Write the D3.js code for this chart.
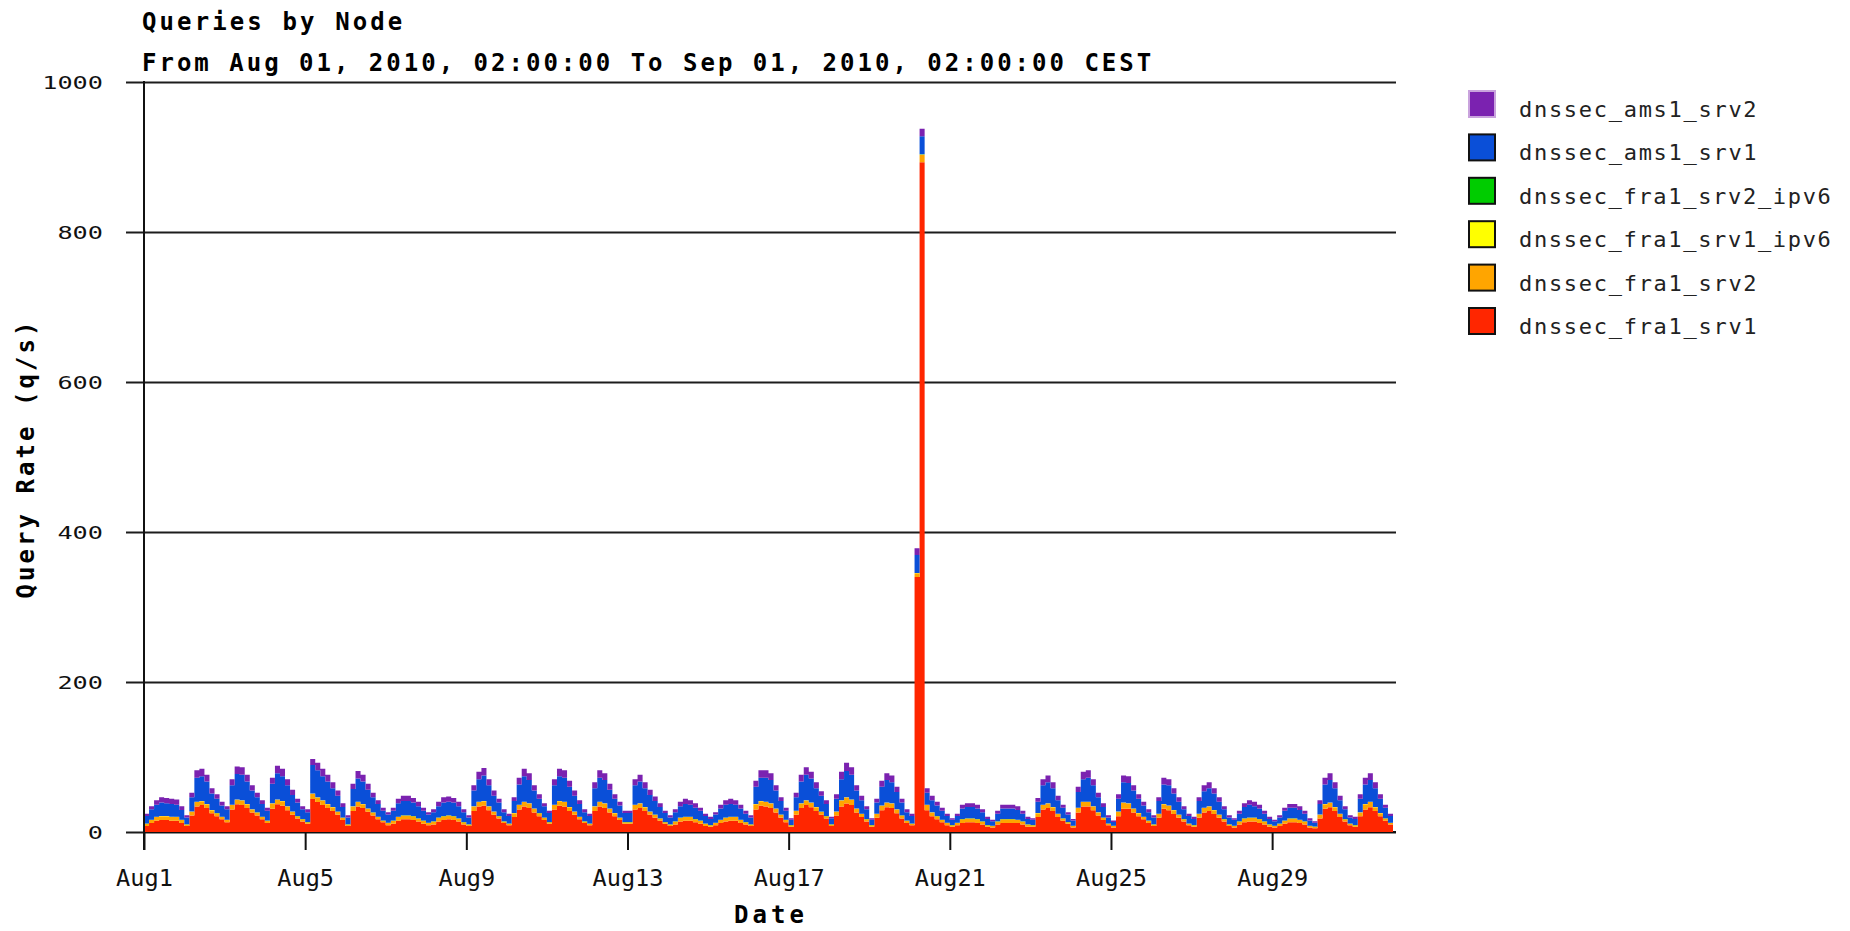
<!DOCTYPE html>
<html>
<head>
<meta charset="utf-8">
<script src="https://cdn.jsdelivr.net/npm/d3@7"></script>
<style>
  body { margin: 0; background: #fff; }
  svg { display: block; }
</style>
</head>
<body>
<div id="chart"></div>
<script>
const title = 'Queries by Node'
const subtitle = 'From Aug 01, 2010, 02:00:00 To Sep 01, 2010, 02:00:00 CEST'
const xLabel = 'Date'
const yLabel = 'Query Rate (q/s)'

// stacking order, bottom to top
const seriesNames = ['dnssec_fra1_srv1', 'dnssec_fra1_srv2', 'dnssec_fra1_srv1_ipv6',
                     'dnssec_fra1_srv2_ipv6', 'dnssec_ams1_srv1', 'dnssec_ams1_srv2']
const seriesColors = ['#ff2600', '#ffa500', '#ffff00', '#00cc00', '#0a4fd8', '#7b22b0']

const yTicks = [0, 200, 400, 600, 800, 1000]
const xTickDays = [1, 5, 9, 13, 17, 21, 25, 29]

// 3-hour bins from Aug 01 00:00 UTC, one line per day
const fra1Srv1 = [
  8,12,15,16,16,15,15,12,
  8,22,34,36,32,25,21,17,
  13,30,37,36,32,26,22,17,
  12,31,37,35,29,23,18,14,
  11,44,40,36,32,28,23,16,
  8,28,34,32,27,22,17,13,
  9,11,15,17,17,16,14,11,
  9,10,14,16,17,16,14,10,
  8,28,34,35,29,23,18,12,
  9,20,30,34,32,26,21,16,
  11,30,35,34,28,23,17,12,
  9,28,34,32,26,21,16,11,
  11,30,32,28,23,19,15,11,
  8,10,14,15,15,13,11,8,
  7,9,12,14,15,15,12,10,
  8,30,35,34,32,26,19,13,
  7,23,32,36,33,28,23,18,
  8,22,34,38,36,26,20,14,
  7,19,29,33,32,25,18,12,
  9,340,893,29,21,17,13,9,
  7,9,12,13,13,12,10,7,
  6,10,12,12,12,12,10,7,
  7,20,30,32,28,20,15,11,
  6,26,34,34,29,22,16,9,
  6,21,31,31,26,21,17,12,
  8,19,31,29,24,19,14,9,
  7,19,26,28,24,19,14,8,
  6,10,13,14,14,12,10,7,
  6,8,11,13,13,12,10,6,
  5,18,31,33,28,20,14,9,
  7,21,30,33,28,21,15,10
]
const fra1Srv2 = [
  3,4,5,5,5,5,5,4,
  2,5,6,5,5,4,4,3,
  3,6,6,6,5,4,4,3,
  3,7,6,6,5,4,3,3,
  2,7,6,6,5,5,4,3,
  2,6,6,5,4,4,3,2,
  3,4,5,5,5,5,4,4,
  3,4,5,5,5,5,4,3,
  2,6,6,6,5,4,3,2,
  2,5,6,6,6,5,4,3,
  2,6,6,6,5,4,3,2,
  2,6,6,6,5,4,3,2,
  2,6,6,5,4,4,3,2,
  2,4,5,5,5,4,4,3,
  2,3,4,5,5,5,4,3,
  2,7,6,6,6,5,4,3,
  2,5,6,6,6,5,4,3,
  2,5,8,8,7,5,4,3,
  2,5,6,6,6,5,4,3,
  2,5,10,7,5,4,3,3,
  2,3,5,5,5,5,4,2,
  2,4,5,5,5,4,4,3,
  2,5,6,6,5,4,3,2,
  2,6,6,6,5,4,3,2,
  2,6,8,7,5,4,3,3,
  2,5,6,6,5,4,3,2,
  2,5,6,6,5,4,3,2,
  2,4,5,5,5,5,4,3,
  2,3,4,5,5,4,4,2,
  2,5,6,6,5,4,3,2,
  2,5,7,7,5,4,3,2
]
const fra1Srv1Ipv6 = [
  0.1,0.1,0.1,0.2,0.2,0.2,0.1,0.1,
  0.1,0.2,0.2,0.2,0.2,0.2,0.1,0.1,
  0.1,0.2,0.2,0.2,0.2,0.2,0.1,0.1,
  0.1,0.2,0.2,0.2,0.2,0.2,0.1,0.1,
  0.1,0.2,0.2,0.2,0.2,0.2,0.1,0.1,
  0.1,0.2,0.2,0.2,0.2,0.1,0.1,0.1,
  0.1,0.1,0.1,0.1,0.1,0.1,0.1,0.1,
  0.1,0.1,0.1,0.1,0.1,0.1,0.1,0.1,
  0.1,0.2,0.2,0.2,0.2,0.2,0.1,0.1,
  0.1,0.2,0.2,0.2,0.2,0.2,0.1,0.1,
  0.1,0.2,0.2,0.2,0.2,0.2,0.1,0.1,
  0.1,0.2,0.2,0.2,0.2,0.2,0.1,0.1,
  0.1,0.2,0.2,0.2,0.2,0.1,0.1,0.1,
  0.1,0.1,0.1,0.1,0.1,0.1,0.1,0.1,
  0.1,0.1,0.1,0.1,0.1,0.1,0.1,0.1,
  0.1,0.2,0.2,0.2,0.2,0.2,0.1,0.1,
  0.1,0.2,0.2,0.2,0.2,0.2,0.1,0.1,
  0.1,0.2,0.2,0.2,0.2,0.2,0.1,0.1,
  0.1,0.2,0.2,0.2,0.2,0.2,0.1,0.1,
  0.1,0.3,0.4,0.2,0.2,0.1,0.1,0.1,
  0.1,0.1,0.1,0.1,0.1,0.1,0.1,0.1,
  0.1,0.1,0.1,0.1,0.1,0.1,0.1,0.1,
  0.1,0.2,0.2,0.2,0.2,0.2,0.1,0.1,
  0.1,0.2,0.2,0.2,0.2,0.2,0.1,0.1,
  0.1,0.2,0.2,0.2,0.2,0.2,0.1,0.1,
  0.1,0.2,0.2,0.2,0.2,0.1,0.1,0.1,
  0.1,0.2,0.2,0.2,0.2,0.1,0.1,0.1,
  0.1,0.1,0.1,0.1,0.1,0.1,0.1,0.1,
  0.1,0.1,0.1,0.1,0.1,0.1,0.1,0.1,
  0.1,0.2,0.2,0.2,0.2,0.2,0.1,0.1,
  0.1,0.2,0.2,0.2,0.2,0.2,0.1,0.1
]
const fra1Srv2Ipv6 = [
  0.1,0.1,0.1,0.1,0.1,0.1,0.1,0.1,
  0.1,0.1,0.1,0.1,0.1,0.1,0.1,0.1,
  0.1,0.1,0.1,0.1,0.1,0.1,0.1,0.1,
  0.1,0.1,0.1,0.1,0.1,0.1,0.1,0.1,
  0.1,0.1,0.1,0.1,0.1,0.1,0.1,0.1,
  0.1,0.1,0.1,0.1,0.1,0.1,0.1,0.1,
  0.1,0.1,0.1,0.1,0.1,0.1,0.1,0.1,
  0.1,0.1,0.1,0.1,0.1,0.1,0.1,0.1,
  0.1,0.1,0.1,0.1,0.1,0.1,0.1,0.1,
  0.1,0.1,0.1,0.1,0.1,0.1,0.1,0.1,
  0.1,0.1,0.1,0.1,0.1,0.1,0.1,0.1,
  0.1,0.1,0.1,0.1,0.1,0.1,0.1,0.1,
  0.1,0.1,0.1,0.1,0.1,0.1,0.1,0.1,
  0.1,0.1,0.1,0.1,0.1,0.1,0.1,0.1,
  0.1,0.1,0.1,0.1,0.1,0.1,0.1,0.1,
  0.1,0.1,0.1,0.1,0.1,0.1,0.1,0.1,
  0.1,0.1,0.1,0.1,0.1,0.1,0.1,0.1,
  0.1,0.1,0.1,0.1,0.1,0.1,0.1,0.1,
  0.1,0.1,0.1,0.1,0.1,0.1,0.1,0.1,
  0.1,0.2,0.3,0.1,0.1,0.1,0.1,0.1,
  0.1,0.1,0.1,0.1,0.1,0.1,0.1,0.1,
  0.1,0.1,0.1,0.1,0.1,0.1,0.1,0.1,
  0.1,0.1,0.1,0.1,0.1,0.1,0.1,0.1,
  0.1,0.1,0.1,0.1,0.1,0.1,0.1,0.1,
  0.1,0.1,0.1,0.1,0.1,0.1,0.1,0.1,
  0.1,0.1,0.1,0.1,0.1,0.1,0.1,0.1,
  0.1,0.1,0.1,0.1,0.1,0.1,0.1,0.1,
  0.1,0.1,0.1,0.1,0.1,0.1,0.1,0.1,
  0.1,0.1,0.1,0.1,0.1,0.1,0.1,0.1,
  0.1,0.1,0.1,0.1,0.1,0.1,0.1,0.1,
  0.1,0.1,0.1,0.1,0.1,0.1,0.1,0.1
]
const ams1Srv1 = [
  10,14,16,18,17,17,16,13,
  9,19,32,33,30,22,19,15,
  14,26,34,34,30,25,20,17,
  13,26,35,33,28,22,18,13,
  13,38,36,32,30,25,21,14,
  9,23,31,30,25,20,17,13,
  11,13,18,19,19,18,16,13,
  11,12,15,18,18,18,16,13,
  9,21,30,34,28,21,18,12,
  10,16,27,34,31,24,19,15,
  12,26,33,32,27,21,17,12,
  10,24,32,31,25,19,16,12,
  12,26,29,25,22,18,15,12,
  9,12,15,17,16,15,13,10,
  8,11,15,17,17,16,15,11,
  9,23,31,32,31,24,18,12,
  7,18,29,34,32,25,21,16,
  8,17,28,35,33,24,18,13,
  7,15,25,30,28,23,17,11,
  10,24,24,16,16,14,12,9,
  7,9,14,15,15,14,12,8,
  6,10,14,14,14,13,10,7,
  7,15,26,28,25,18,14,10,
  7,21,30,32,28,20,14,8,
  5,17,27,27,24,19,15,11,
  9,17,26,27,22,17,13,10,
  8,17,22,24,22,17,13,9,
  8,10,15,17,15,14,10,7,
  6,8,13,14,14,13,10,7,
  5,14,26,30,25,18,13,8,
  8,18,26,29,25,19,14,9
]
const ams1Srv2 = [
  3,4,6,7,7,7,7,5,
  3,6,10,10,9,7,6,5,
  4,8,10,10,9,7,6,5,
  4,8,10,10,8,7,5,4,
  4,8,10,10,9,8,7,5,
  3,7,10,9,8,6,5,4,
  3,4,6,7,7,6,6,4,
  3,4,6,7,7,6,6,4,
  3,7,10,10,8,7,5,4,
  3,5,9,10,9,7,6,4,
  3,8,10,10,8,7,5,4,
  3,8,10,9,8,6,5,3,
  3,8,9,8,7,6,5,3,
  3,4,6,7,6,6,4,3,
  3,3,5,6,7,6,5,4,
  3,8,10,10,9,7,5,4,
  2,6,9,10,9,8,6,5,
  2,6,10,11,10,7,6,4,
  2,5,8,9,9,7,5,4,
  3,9,10,6,6,5,4,3,
  2,3,5,5,5,5,4,3,
  2,4,5,5,5,5,4,3,
  2,5,8,9,8,6,4,3,
  2,7,10,10,8,6,5,3,
  2,6,9,9,7,6,5,4,
  3,5,9,8,7,6,4,3,
  3,5,8,8,7,6,4,3,
  2,4,5,6,6,5,4,3,
  2,3,4,5,5,5,4,3,
  2,5,9,9,8,6,4,3,
  3,6,9,9,8,6,4,3
]

const seriesValues = [fra1Srv1, fra1Srv2, fra1Srv1Ipv6, fra1Srv2Ipv6, ams1Srv1, ams1Srv2]

const width = 1850, height = 931
const plot = { left: 144, right: 1393, top: 82, bottom: 832 }
const gridRight = 1396
const mono = "'DejaVu Sans Mono', 'Liberation Mono', monospace"

const svg = d3.select('#chart').append('svg')
    .attr('width', width)
    .attr('height', height)

const start = new Date(Date.UTC(2010, 7, 1))
const end = new Date(Date.UTC(2010, 8, 1))

const x = d3.scaleUtc().domain([start, end]).range([plot.left, plot.right])
const y = d3.scaleLinear().domain([0, 1000]).range([plot.bottom, plot.top])

var rows = fra1Srv1.map(function(_, i) {
    var r = { time: d3.utcHour.offset(start, 3 * i) }
    seriesNames.forEach(function(n, k) { r[n] = seriesValues[k][i] })
    return r
})
// repeat the last bin at the end so the final step is drawn full width
rows.push(Object.assign({}, rows[rows.length - 1], { time: end }))

const stacked = d3.stack().keys(seriesNames)(rows)

// gridlines (y axis ticks stretched across the plot)
const yAxis = svg.append('g')
    .attr('transform', 'translate(126,0)')
    .call(d3.axisLeft(y)
        .tickValues(yTicks)
        .tickFormat(d3.format('d'))
        .tickSize(-(gridRight - 126))
        .tickPadding(23))
yAxis.select('.domain').remove()
yAxis.selectAll('.tick line').attr('stroke', '#1c1c1c').attr('stroke-width', 2)
yAxis.selectAll('.tick text')
    .attr('font-family', mono)
    .attr('font-size', 17)
    .attr('fill', '#111')
    .attr('dy', '0.36em')
    .attr('textLength', function() { return this.textContent.length * 15.2 })
    .attr('lengthAdjust', 'spacingAndGlyphs')

// x baseline
svg.append('line')
    .attr('x1', plot.left).attr('x2', gridRight)
    .attr('y1', plot.bottom).attr('y2', plot.bottom)
    .attr('stroke', '#111').attr('stroke-width', 2)

const area = d3.area()
    .x(function(d) { return x(d.data.time) })
    .y0(function(d) { return y(d[0]) })
    .y1(function(d) { return y(d[1]) })
    .curve(d3.curveStepAfter)

svg.append('g').selectAll('path').data(stacked)
  .enter().append('path')
    .attr('fill', function(d, i) { return seriesColors[i] })
    .attr('d', area)

// x axis ticks and labels
const xAxis = svg.append('g')
    .attr('transform', 'translate(0,' + plot.bottom + ')')
    .call(d3.axisBottom(x)
        .tickValues(xTickDays.map(function(day) { return new Date(Date.UTC(2010, 7, day)) }))
        .tickSize(18)
        .tickFormat(d3.utcFormat('%b%-d')))
xAxis.select('.domain').remove()
xAxis.selectAll('.tick line').attr('stroke', '#111').attr('stroke-width', 2)
xAxis.selectAll('.tick text')
    .attr('y', 54)
    .attr('dy', 0)
    .attr('font-family', mono)
    .attr('font-size', 23)
    .attr('fill', '#111')
    .attr('textLength', function() { return this.textContent.length * 14.2 })
    .attr('lengthAdjust', 'spacingAndGlyphs')

// y axis line on top of the data
svg.append('line')
    .attr('x1', plot.left).attr('x2', plot.left)
    .attr('y1', plot.top - 1).attr('y2', plot.bottom + 18)
    .attr('stroke', '#111').attr('stroke-width', 2)

// titles
function boldText(str, advance) {
    return svg.append('text')
        .attr('font-family', mono)
        .attr('font-weight', 'bold')
        .attr('font-size', 24)
        .attr('fill', '#000')
        .attr('textLength', str.length * advance)
        .attr('lengthAdjust', 'spacing')
        .text(str)
}
boldText(title, 17.35).attr('x', 142).attr('y', 30)
boldText(subtitle, 17.4).attr('x', 142).attr('y', 71)
boldText(xLabel, 17.5).attr('x', 769).attr('y', 923).attr('text-anchor', 'middle')
boldText(yLabel, 17.3).attr('text-anchor', 'middle')
    .attr('transform', 'translate(34,460) rotate(-90)')

// legend, top entry is the top of the stack
const legendItems = seriesNames.map(function(n, i) { return { name: n, color: seriesColors[i] } }).reverse()
const legend = svg.append('g').selectAll('g').data(legendItems)
  .enter().append('g')
    .attr('transform', function(d, i) { return 'translate(1468,' + (90 + i * 43.4) + ')' })
legend.append('rect')
    .attr('x', 1).attr('y', 1)
    .attr('width', 26).attr('height', 26)
    .attr('fill', function(d) { return d.color })
    .attr('stroke', function(d, i) { return i === 0 ? '#c9a3dd' : '#111' })
    .attr('stroke-width', 2)
legend.append('text')
    .attr('x', 51).attr('y', 27)
    .attr('font-family', mono)
    .attr('font-size', 22)
    .attr('fill', '#222')
    .attr('textLength', function(d) { return d.name.length * 14.85 })
    .attr('lengthAdjust', 'spacing')
    .text(function(d) { return d.name })
</script>
</body>
</html>
